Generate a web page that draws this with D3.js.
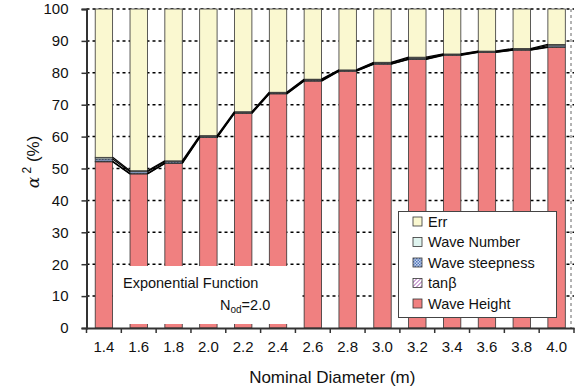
<!DOCTYPE html>
<html>
<head>
<meta charset="utf-8">
<script src="https://cdn.jsdelivr.net/npm/d3@7"></script>
<style>
body { margin: 0; background: #fff; }
svg { font-family: Arial, "Liberation Sans", sans-serif; }
</style>
</head>
<body>
<svg></svg>
<script>
var WIDTH = 575;
var HEIGHT = 387;

// data
var diameters = ['1.4', '1.6', '1.8', '2.0', '2.2', '2.4', '2.6', '2.8', '3.0', '3.2', '3.4', '3.6', '3.8', '4.0'];
var waveHeight = [52.1, 48.3, 51.6, 59.7, 67.3, 73.4, 77.4, 80.5, 82.7, 84.2, 85.5, 86.4, 87.1, 88.0];
var tanBeta = [0.2, 0.1, 0.1, 0.1, 0.1, 0.1, 0.1, 0.1, 0.1, 0.1, 0.1, 0.1, 0.1, 0.1];
var waveSteepness = [0.7, 0.6, 0.4, 0.3, 0.2, 0.2, 0.3, 0.2, 0.3, 0.3, 0.2, 0.2, 0.2, 0.4];
var waveNumber = [0.5, 0.3, 0.3, 0.2, 0.2, 0.2, 0.2, 0.1, 0.2, 0.3, 0.1, 0.1, 0.2, 0.4];
var yTicks = [0, 10, 20, 30, 40, 50, 60, 70, 80, 90, 100];
var seriesNames = ['Wave Height', 'tan\u03b2', 'Wave steepness', 'Wave Number', 'Err'];

var svg = d3.select('svg')
	.attr('width', WIDTH)
	.attr('height', HEIGHT);

var plotLeft = 86.5, plotRight = 574, plotTop = 9, plotBottom = 328;

var x = d3.scaleBand().domain(diameters).range([plotLeft, plotRight]).padding(0);
var y = d3.scaleLinear().domain([0, 100]).range([plotBottom, plotTop]);

// patterns for the small series
var defs = svg.append('defs');
var steep = defs.append('pattern').attr('id', 'steep')
	.attr('width', 3).attr('height', 3).attr('patternUnits', 'userSpaceOnUse');
steep.append('rect').attr('width', 3).attr('height', 3).attr('fill', '#c9d9f0');
steep.append('rect').attr('width', 1.5).attr('height', 1.5).attr('fill', '#5577bb');
steep.append('rect').attr('x', 1.5).attr('y', 1.5).attr('width', 1.5).attr('height', 1.5).attr('fill', '#5577bb');
var tanp = defs.append('pattern').attr('id', 'tanb')
	.attr('width', 4).attr('height', 4).attr('patternUnits', 'userSpaceOnUse');
tanp.append('rect').attr('width', 4).attr('height', 4).attr('fill', '#fff');
tanp.append('path').attr('d', 'M0,4 L4,0 M-1,1 L1,-1 M3,5 L5,3').attr('stroke', '#a050b0').attr('stroke-width', 1);

var colors = {
	'Wave Height': '#f08080',
	'tan\u03b2': 'url(#tanb)',
	'Wave steepness': 'url(#steep)',
	'Wave Number': '#dff4ef',
	'Err': '#faf8d0'
};

// build stacked rows
var rows = diameters.map(function(d, i){
	var sum = waveHeight[i] + tanBeta[i] + waveSteepness[i] + waveNumber[i];
	return {
		d: d,
		'Wave Height': waveHeight[i],
		'tan\u03b2': tanBeta[i],
		'Wave steepness': waveSteepness[i],
		'Wave Number': waveNumber[i],
		'Err': 100 - sum
	};
});
var stacked = d3.stack().keys(seriesNames)(rows);

// gridlines
svg.append('g').selectAll('line').data(yTicks.filter(function(t){ return t > 0; }))
	.enter().append('line')
	.attr('x1', plotLeft).attr('x2', plotRight)
	.attr('y1', function(t){ return y(t); })
	.attr('y2', function(t){ return y(t); })
	.attr('stroke', '#000')
	.attr('stroke-width', 1.5)
	.attr('stroke-dasharray', '3,3');
// dotted right edge of the plot area
svg.append('line')
	.attr('x1', plotRight - 3).attr('x2', plotRight - 3)
	.attr('y1', plotTop).attr('y2', plotBottom)
	.attr('stroke', '#666')
	.attr('stroke-width', 1)
	.attr('stroke-dasharray', '3,3');

var barW = x.bandwidth() * 0.5;
var barOff = (x.bandwidth() - barW) / 2;

// bars
svg.append('g').selectAll('g').data(stacked).enter().append('g')
	.attr('fill', function(s){ return colors[s.key]; })
	.selectAll('rect').data(function(s){ return s; })
	.enter().append('rect')
	.attr('x', function(p){ return x(p.data.d) + barOff; })
	.attr('width', barW)
	.attr('y', function(p){ return y(p[1]); })
	.attr('height', function(p){ return y(p[0]) - y(p[1]); })
	.attr('stroke', '#333')
	.attr('stroke-width', 0.8);

// series lines between bars
stacked.slice(0, 4).forEach(function(s){
	var segs = [];
	for (var i = 0; i < s.length - 1; i++) {
		segs.push([
			[x(diameters[i]) + barOff + barW, y(s[i][1])],
			[x(diameters[i + 1]) + barOff, y(s[i + 1][1])]
		]);
	}
	svg.append('g').selectAll('line').data(segs).enter().append('line')
		.attr('x1', function(g){ return g[0][0]; })
		.attr('y1', function(g){ return g[0][1]; })
		.attr('x2', function(g){ return g[1][0]; })
		.attr('y2', function(g){ return g[1][1]; })
		.attr('stroke', '#000')
		.attr('stroke-width', 1.3);
});

// y axis
var leftAxis = d3.axisLeft(y).tickValues(yTicks).tickSize(5).tickPadding(13);
var ya = svg.append('g').attr('transform', 'translate(' + plotLeft + ',0)').call(leftAxis);
ya.select('.domain').attr('stroke', '#333').attr('stroke-width', 2);
ya.selectAll('.tick line').attr('stroke', '#333').attr('stroke-width', 1.5);
ya.selectAll('text').attr('font-size', 15).attr('fill', '#111')
	.attr('font-family', 'Arial, "Liberation Sans", sans-serif');

// x axis
var bottomAxis = d3.axisBottom(x).tickSize(0).tickPadding(13);
var xa = svg.append('g').attr('transform', 'translate(0,' + plotBottom + ')').call(bottomAxis);
xa.select('.domain').attr('stroke', '#333').attr('stroke-width', 2);
xa.selectAll('text').attr('font-size', 15).attr('fill', '#111')
	.attr('font-family', 'Arial, "Liberation Sans", sans-serif');
var edges = diameters.map(function(d){ return x(d); }).concat([plotRight]);
xa.selectAll('.edge').data(edges).enter().append('line')
	.attr('x1', function(e){ return e; }).attr('x2', function(e){ return e; })
	.attr('y1', 0).attr('y2', 5)
	.attr('stroke', '#333').attr('stroke-width', 1.5);

// axis titles
svg.append('text')
	.attr('x', (plotLeft + plotRight) / 2 + 2)
	.attr('y', 383)
	.attr('text-anchor', 'middle')
	.attr('font-size', 17)
	.attr('fill', '#111')
	.text('Nominal Diameter (m)');

var yl = svg.append('text')
	.attr('transform', 'translate(39,162) rotate(-90)')
	.attr('text-anchor', 'middle')
	.attr('font-size', 17)
	.attr('fill', '#111');
yl.append('tspan').attr('font-style', 'italic').attr('font-family', '"DejaVu Serif", serif').text('\u03b1');
yl.append('tspan').attr('dy', -8).attr('font-size', 12).text(' 2');
yl.append('tspan').attr('dy', 8).text(' (%)');

// annotation box
svg.append('rect')
	.attr('x', 113).attr('y', 266).attr('width', 189).attr('height', 58)
	.attr('fill', '#fff');
svg.append('text')
	.attr('x', 123).attr('y', 288)
	.attr('font-size', 14.5).attr('fill', '#111')
	.text('Exponential Function');
var nt = svg.append('text')
	.attr('x', 220).attr('y', 310)
	.attr('font-size', 14.5).attr('fill', '#111');
nt.append('tspan').text('N');
nt.append('tspan').attr('dy', 3).attr('font-size', 10).text('od');
nt.append('tspan').attr('dy', -3).text('=2.0');

// legend
var legendItems = ['Err', 'Wave Number', 'Wave steepness', 'tan\u03b2', 'Wave Height'];
var lg = svg.append('g');
lg.append('rect')
	.attr('x', 398.5).attr('y', 211.5).attr('width', 158).attr('height', 106)
	.attr('fill', '#fff').attr('stroke', '#444').attr('stroke-width', 1);
var li = lg.selectAll('.item').data(legendItems).enter().append('g')
	.attr('transform', function(d, i){ return 'translate(413,' + (217 + i * 20.5) + ')'; });
li.append('rect')
	.attr('width', 9).attr('height', 9)
	.attr('fill', function(d){ return colors[d]; })
	.attr('stroke', '#333').attr('stroke-width', 0.8);
li.append('text')
	.attr('x', 15).attr('y', 9.5)
	.attr('font-size', 14.5).attr('fill', '#111')
	.text(function(d){ return d; });
</script>
</body>
</html>
